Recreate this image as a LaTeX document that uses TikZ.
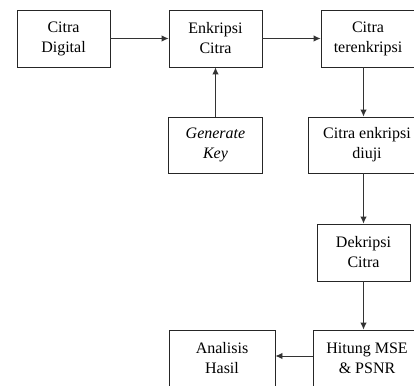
\documentclass[tikz,border=0pt]{standalone}
\usepackage{fontspec}
\setmainfont{Liberation Serif}
\usetikzlibrary{arrows.meta}
\begin{document}
\begin{tikzpicture}[x=1pt,y=-1pt,
  box/.style={draw=black!85, line width=0.9pt, inner sep=0pt, align=center,
    font=\fontsize{16}{20}\selectfont},
  arr/.style={draw=black!80, line width=0.9pt, -{Latex[length=7pt,width=6.5pt]}}]
\useasboundingbox (0,0) rectangle (414,385);
\clip (0,0) rectangle (414,385);
\node[box, minimum width=93pt, minimum height=57pt] (cd) at (63.5,38.5) {Citra\\Digital};
\node[box, minimum width=93pt, minimum height=57pt] (ek) at (215.5,38.5) {Enkripsi\\Citra};
\node[box, minimum width=94pt, minimum height=57pt] (te) at (368,38.5) {Citra\\terenkripsi};
\node[box, minimum width=94pt, minimum height=56pt] (gk) at (215.5,145) {\itshape Generate\\\itshape Key};
\node[box, minimum width=118pt, minimum height=56pt] (du) at (367,145) {Citra enkripsi\\diuji};
\node[box, minimum width=93pt, minimum height=57pt] (dk) at (363.5,252.5) {Dekripsi\\Citra};
\node[box, minimum width=108pt, minimum height=57pt] (hm) at (367,358.5) {Hitung MSE\\\& PSNR};
\node[box, minimum width=106pt, minimum height=57pt] (ah) at (222,358.5) {Analisis\\Hasil};
\draw[arr] (cd.east) -- (ek.west);
\draw[arr] (ek.east) -- (te.west);
\draw[arr] (gk.north) -- (ek.south);
\draw[arr] (te.south -| dk.center) -- (du.north -| dk.center);
\draw[arr] (du.south -| dk.center) -- (dk.north);
\draw[arr] (dk.south) -- (hm.north -| dk.center);
\draw[arr] (hm.west |- 0,356) -- (ah.east |- 0,356);
\end{tikzpicture}
\end{document}
